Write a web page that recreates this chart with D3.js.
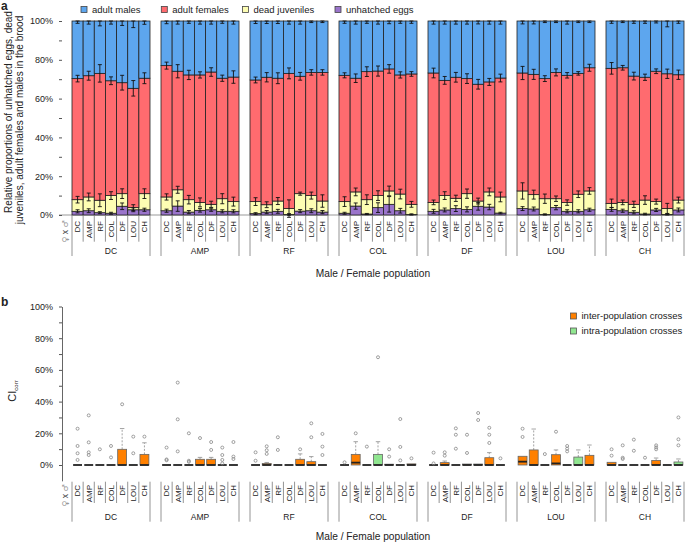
<!DOCTYPE html>
<html><head><meta charset="utf-8">
<script src="https://cdn.jsdelivr.net/npm/d3@7"></script>
<style>body{margin:0;background:#fff} text{font-family:Arial,"Liberation Sans",sans-serif;fill:#222}</style>
</head><body><svg id="c" width="685" height="542"></svg>
<script>
// ---------- DATA ----------
const groups  = ["DC","AMP","RF","COL","DF","LOU","CH"];   // outer population
const crosses = ["DC","AMP","RF","COL","DF","LOU","CH"];   // inner population
const seriesKeys = ["eggs","juv","fem","males"];
const seriesLabels = {males:"adult males", fem:"adult females", juv:"dead juveniles", eggs:"unhatched eggs"};
const tickLabelsA = [0,20,40,60,80,100];
const tickLabelsB = [0,20,40,60,80,100];

// proportions (%) per group (rows) x cross (cols)
const eggs = [
 [1.9,2.2,1.2,0.9,4.5,2.7,2.7],
 [2.2,4.6,1.5,2.4,2.7,1.9,1.9],
 [0.7,1.5,1.9,0.3,2.0,2.2,1.5],
 [0.9,4.6,0.5,3.8,5.5,2.2,0.3],
 [1.9,2.6,3.3,2.9,4.5,4.1,1.0],
 [3.3,3.1,0.3,3.8,1.9,1.9,2.7],
 [2.9,2.2,1.4,0.5,2.6,0.3,2.6]];
const juveniles = [
 [6.0,7.1,6.4,9.1,6.5,1.1,8.3],
 [7.1,8.4,6.4,4.1,2.8,6.5,5.0],
 [6.2,3.8,5.3,3.0,9.0,7.8,5.7],
 [6.0,7.3,7.4,6.2,6.9,8.6,5.2],
 [4.6,7.4,5.3,8.1,2.7,7.8,8.3],
 [9.1,7.4,8.1,4.6,4.5,8.8,9.7],
 [3.1,4.3,4.1,7.2,4.3,3.1,5.1]];
const females = [
 [62.4,62.5,65.4,59.2,57.2,61.5,59.5],
 [67.7,61.1,64.3,65.7,68.2,62.1,64.2],
 [62.7,65.7,63.3,69.7,60.5,63.5,66.3],
 [65.1,58.6,66.0,64.2,62.9,61.4,67.2],
 [66.7,59.4,62.4,59.3,60.2,56.7,61.3],
 [60.8,62.0,61.9,65.1,65.6,62.3,63.5],
 [69.6,69.4,66.1,63.3,67.2,69.4,64.6]];
const males = [
 [29.7,28.2,27.0,30.8,31.8,34.7,29.5],
 [23.0,25.9,27.8,27.8,26.3,29.5,28.9],
 [30.4,29.0,29.5,27.0,28.5,26.5,26.5],
 [28.0,29.5,26.1,25.8,24.7,27.8,27.3],
 [26.8,30.6,29.0,29.7,32.6,31.4,29.4],
 [26.8,27.5,29.7,26.5,28.0,27.0,24.1],
 [24.4,24.1,28.4,29.0,25.9,27.2,27.7]];
// error bar half-lengths (%)
const errEggs = [
 [0.8,1.0,0.5,0.5,1.7,1.0,0.8],[0.8,2.7,0.8,0.9,0.8,0.8,0.8],[0.5,0.8,1.0,0.4,0.8,1.0,0.8],
 [0.5,1.6,0.3,2.5,4.0,1.2,0.3],[1.0,1.0,1.5,1.3,2.0,1.4,0.4],[1.0,1.0,0.3,1.1,0.8,0.8,0.8],
 [1.0,0.8,0.8,0.4,0.8,0.3,1.0]];
const errJuv = [
 [1.7,2.0,3.3,2.0,2.5,1.5,2.5],[1.6,1.8,2.2,2.3,1.6,2.6,2.3],[2.0,1.5,1.8,4.5,0.8,1.8,3.2],
 [2.5,2.0,2.5,2.5,2.5,2.5,1.5],[1.2,2.0,1.6,2.4,1.5,2.0,2.5],[4.2,2.3,2.4,1.4,1.4,1.7,1.7],
 [2.2,1.2,1.6,2.2,1.3,2.6,1.5]];
const errFem = [
 [1.7,2.3,4.5,2.0,3.8,4.0,2.8],[1.8,3.4,2.4,1.6,2.2,1.6,3.2],[1.5,2.4,2.8,2.8,2.0,1.4,1.4],
 [1.3,2.2,2.5,2.6,2.2,1.6,1.2],[2.5,2.0,2.5,2.5,2.5,1.8,2.0],[3.4,2.6,1.5,1.8,1.4,0.9,1.8],
 [3.0,1.2,2.0,1.6,1.2,2.4,2.4]];
const errMales = [
 [1.2,1.6,2.5,1.6,2.3,3.4,1.7],[1.4,1.6,1.2,1.6,1.6,1.2,1.6],[1.3,1.3,1.3,1.6,1.6,0.8,0.8],
 [1.2,1.6,1.2,1.6,1.4,1.2,1.2],[1.6,1.6,1.6,1.6,1.5,1.6,1.6],[1.5,1.5,0.8,0.8,1.6,0.8,0.8],
 [1.2,0.8,1.2,1.2,1.0,3.0,1.2]];

// panel b: CIcorr box plots (%)
const boxQ1 = [
 [0,0,0,0,0,0,0],[0,0,0,0,0,0,0],[0,0,0,0,0,0,0],[0,0,0,0,0,0,0],
 [0,0,0,0,0,0,0],[0,0,0,0,0,0,0],[0,0,0,0,0,0,0]];
const boxMed = [
 [0,0,0,0,0,0,0],[0,0,0,0,0,0,0],[0,0,0,0,0,0,0],[0,1.5,0,0,0,0,0],
 [0,0,0,0,0,0,0],[2.1,0,0,1.0,0,0,0],[0,0,0,0,0,0,0]];
const boxQ3 = [
 [0,0,0,0,9.9,0,6.7],[0,0,0,3.6,3.6,0,0],[0,1.0,0,0,3.6,2.1,0],[0,6.7,0,6.7,0.5,0,0.7],
 [0,1.5,0,0.6,0.6,4.6,0],[5.5,9.5,0,6.5,0,5.0,6.1],[1.7,0,0,0,2.9,0,1.9]];
const whiskHi = [
 [0,0,0,0,23,0,14],[0,0,0,4.8,4.8,0,0],[0,1.6,0,0,7,5.3,0],[0,14.7,0,14.7,0.5,0,0.7],
 [0,2.5,0,0.6,0.6,7.8,0],[5.5,22.7,0,9.5,0,9.5,12.6],[1.7,0,0,0,4.4,0,3.8]];
const outliers = [
 [[22.9,12,7.4,3.2],[31.3,14.3,8,6.3],[9.9],[12,4.8],[38.3],[17.9,7.4],[17.9]],
 [[11,3.5,3],[52,28.8,8.6],[20,2.7,2],[17],[14.5,9.5],[11,6.3,3.2,1],[14.5,5.3,3.8]],
 [[8,2.7],[11.8,9.3,7],[17.5,9.5],[],[9.9],[26.3,17.5],[19.6,11.6,6.3]],
 [[1.7],[20],[11.6],[68],[9.9,5.3],[29,11.4,2.9],[4.2]],
 [[7.8,1],[8,5.9],[23.1,19.1,10.3],[19.1,7.6],[32.8,28.4],[23.5,19.1,13.9],[4.2]],
 [[22.9,17.7],[],[6.9],[21],[12,10.3,8.6],[],[]],
 [[9.9,5.9],[12.4,4.6,3.8],[16,9],[4.6],[12.4,11.1,9.9],[],[30,16.2,12.4]]];

// ---------- STYLE ----------
const colors = {males:"#5DA6EE", fem:"#FF6B6F", juv:"#FDFDB3", eggs:"#9A74CB"};
const interColor = "#FF8000", intraColor = "#90E690";

const svg = d3.select("#c");
const x0 = d3.scaleBand().domain(groups).range([72,684]).paddingInner(11/89);
const x1 = d3.scaleBand().domain(crosses).range([0, x0.bandwidth()]);
const yA = d3.scaleLinear().domain([0,100]).range([215,21]);
const yB = d3.scaleLinear().domain([-10,100]).range([480.85,306.5]);

// ---------- PANEL A ----------
const rows = [];
groups.forEach((g,gi)=>crosses.forEach((c,ci)=>rows.push({
  g,c,gi,ci,eggs:eggs[gi][ci],juv:juveniles[gi][ci],fem:females[gi][ci],males:males[gi][ci]})));
const errs = {eggs:errEggs, juv:errJuv, fem:errFem, males:errMales};
const stacked = d3.stack().keys(seriesKeys)(rows);

svg.append("line").attr("x1",59).attr("x2",685).attr("y1",yA(0)).attr("y2",yA(0))
  .attr("stroke","#999").attr("stroke-width",1);

const gA = svg.append("g");
stacked.forEach(layer=>{
  gA.selectAll(null).data(layer).enter().append("rect")
    .attr("x",d=>x0(d.data.g)+x1(d.data.c))
    .attr("width",x1.bandwidth())
    .attr("y",d=>yA(d[1]))
    .attr("height",d=>yA(d[0])-yA(d[1]))
    .attr("fill",colors[layer.key]).attr("stroke","#222").attr("stroke-width",0.8);
});
stacked.forEach(layer=>{
  layer.forEach(d=>{
    const e = errs[layer.key][d.data.gi][d.data.ci];
    const cx = x0(d.data.g)+x1(d.data.c)+x1.bandwidth()/2;
    const top = Math.min(100,d[1]+e), bot = d[1]-e;
    gA.append("line").attr("x1",cx).attr("x2",cx).attr("y1",yA(top)).attr("y2",yA(bot))
      .attr("stroke","#111").attr("stroke-width",0.9);
    [top,bot].forEach(v=>gA.append("line").attr("x1",cx-2).attr("x2",cx+2)
      .attr("y1",yA(v)).attr("y2",yA(v)).attr("stroke","#111").attr("stroke-width",0.9));
  });
});

// axis A (ticks only)
const axA = svg.append("g").attr("transform","translate(62,0)")
  .call(d3.axisLeft(yA).tickValues(tickLabelsA).tickFormat(d=>d+"%").tickSize(3).tickPadding(6));
axA.select(".domain").remove();
axA.selectAll("text").style("font-size","9px").attr("fill","#222");
axA.selectAll("line").attr("stroke","#555");
svg.append("g").attr("transform","translate(62,0)")
  .call(d3.axisLeft(yA).tickValues([10,30,50,70,90]).tickFormat("").tickSize(3))
  .call(g=>{g.select(".domain").remove(); g.selectAll("line").attr("stroke","#555");});

function labelRegion(yTop, innerEnd, edgeEnd, innerLabelY, groupLabelY){
  const g = svg.append("g");
  groups.forEach(gr=>{
    const gx = x0(gr);
    crosses.forEach((c,i)=>{
      const lx = gx + x1(c);
      if(i>0) g.append("line").attr("x1",lx).attr("x2",lx).attr("y1",yTop).attr("y2",innerEnd)
        .attr("stroke","#888").attr("stroke-width",0.9);
      g.append("text").attr("transform",`translate(${lx+x1.bandwidth()/2+2.9},${innerLabelY}) rotate(-90)`)
        .attr("text-anchor","end").style("font-size","8px").text(c);
    });
    [gx, gx+x0.bandwidth()].forEach(ex=>g.append("line").attr("x1",ex).attr("x2",ex)
      .attr("y1",yTop).attr("y2",edgeEnd).attr("stroke","#888").attr("stroke-width",0.9));
    g.append("text").attr("x",gx+x0.bandwidth()/2).attr("y",groupLabelY)
      .attr("text-anchor","middle").style("font-size","8.5px").text(gr);
  });
  const sx = g.append("text").attr("transform",`translate(67.5,${innerLabelY-1}) rotate(-90)`)
    .attr("text-anchor","end").style("font-size","8px").style("font-family","'DejaVu Sans',sans-serif");
  sx.append("tspan").style("fill","#999").text("\u2640");
  sx.append("tspan").style("fill","#444").text(" x ");
  sx.append("tspan").style("fill","#999").text("\u2642");
}
labelRegion(yA(0), 241.7, 256, 221, 254);
svg.append("text").attr("x",373).attr("y",277).attr("text-anchor","middle")
  .style("font-size","10.2px").text("Male / Female population");

// y title A
svg.append("text").attr("transform","translate(12,112) rotate(-90)").attr("text-anchor","middle")
  .style("font-size","10px").text("Relative proportions of unhatched eggs, dead");
svg.append("text").attr("transform","translate(23,120) rotate(-90)").attr("text-anchor","middle")
  .style("font-size","10px").text("juveniles, adult females and males in the brood");
svg.append("text").attr("x",1).attr("y",10).style("font-size","12px").style("font-weight","bold").text("a");

// legend A
const legA = [["males",81],["fem",161.3],["juv",242.5],["eggs",335]];
legA.forEach(([k,x])=>{
  svg.append("rect").attr("x",x).attr("y",6.5).attr("width",6).attr("height",6)
    .attr("fill",colors[k]).attr("stroke","#444").attr("stroke-width",0.8);
  svg.append("text").attr("x",x+11).attr("y",12.8).style("font-size","9.5px").text(seriesLabels[k]);
});

// ---------- PANEL B ----------
const axB = svg.append("g").attr("transform","translate(62,0)")
  .call(d3.axisLeft(yB).tickValues(tickLabelsB).tickFormat(d=>d+"%").tickSize(3).tickSizeOuter(0).tickPadding(6));
axB.selectAll("text").style("font-size","9px").attr("fill","#222");
axB.selectAll("line").attr("stroke","#555");
axB.select(".domain").attr("stroke","#666");
svg.append("g").attr("transform","translate(62,0)")
  .call(d3.axisLeft(yB).tickValues([10,30,50,70,90]).tickFormat("").tickSize(3))
  .call(g=>{g.select(".domain").remove(); g.selectAll("line").attr("stroke","#555");});

const gB = svg.append("g");
const bw = x1.bandwidth()*0.8;
groups.forEach((g,gi)=>crosses.forEach((c,ci)=>{
  const cx = x0(g)+x1(c)+x1.bandwidth()/2;
  const fill = g===c ? intraColor : interColor;
  const q1=boxQ1[gi][ci], q3=boxQ3[gi][ci], md=boxMed[gi][ci], wh=whiskHi[gi][ci];
  if(wh>q3){
    gB.append("line").attr("x1",cx).attr("x2",cx).attr("y1",yB(q3)).attr("y2",yB(wh))
      .attr("stroke","#999").attr("stroke-dasharray","2,1.5").attr("stroke-width",0.9);
    gB.append("line").attr("x1",cx-bw/4).attr("x2",cx+bw/4).attr("y1",yB(wh)).attr("y2",yB(wh))
      .attr("stroke","#999").attr("stroke-width",0.9);
  }
  gB.append("rect").attr("x",cx-bw/2).attr("width",bw).attr("y",yB(q3))
    .attr("height",Math.max(0,yB(q1)-yB(q3))).attr("fill",fill)
    .attr("stroke","#666").attr("stroke-width",0.8);
  gB.append("line").attr("x1",cx-bw/2).attr("x2",cx+bw/2).attr("y1",yB(md)).attr("y2",yB(md))
    .attr("stroke","#222").attr("stroke-width",1.8);
  outliers[gi][ci].forEach(v=>gB.append("circle").attr("cx",cx).attr("cy",yB(v)).attr("r",1.5)
    .attr("fill","none").attr("stroke","#888").attr("stroke-width",0.8));
}));

labelRegion(481.7, 503, 521.7, 485, 520);
svg.append("text").attr("x",373).attr("y",540).attr("text-anchor","middle")
  .style("font-size","10.2px").text("Male / Female population");
const ci = svg.append("text").attr("transform","translate(16,391) rotate(-90)").attr("text-anchor","middle")
  .style("font-size","11px");
ci.append("tspan").text("CI");
ci.append("tspan").attr("dy",2).style("font-size","6px").text("corr");
svg.append("text").attr("x",1).attr("y",306).style("font-size","12px").style("font-weight","bold").text("b");

[["inter-population crosses",interColor,313],["intra-population crosses",intraColor,328]].forEach(([t,c,y])=>{
  svg.append("rect").attr("x",570.5).attr("y",y).attr("width",6).attr("height",6)
    .attr("fill",c).attr("stroke","#555").attr("stroke-width",0.8);
  svg.append("text").attr("x",581.5).attr("y",y+6).style("font-size","9.5px").text(t);
});
</script></body></html>
